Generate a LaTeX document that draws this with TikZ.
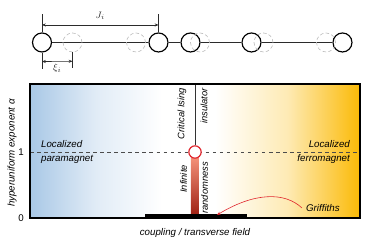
\documentclass[tikz,border=0pt]{standalone}
\usepackage{fontspec}
\setsansfont{Liberation Sans}
\usetikzlibrary{arrows.meta}
\definecolor{ink}{HTML}{2B2B2B}
\definecolor{para}{HTML}{A9C8E6}
\definecolor{ferro}{HTML}{FBBA06}
\definecolor{qred}{HTML}{E0242C}
\definecolor{barhi}{HTML}{F39078}
\definecolor{barmid}{HTML}{F21A12}
\definecolor{barlo}{HTML}{9A1A0E}
\tikzset{
  site/.style={circle,draw=black,fill=white,line width=1pt,minimum size=5.7mm,inner sep=0pt},
  ghost/.style={circle,draw=gray!55,densely dashed,line width=.5pt,minimum size=5.7mm,inner sep=0pt},
  lbl/.style={font=\sffamily\itshape\fontsize{8.3}{12}\selectfont},
  vlbl/.style={font=\sffamily\itshape\fontsize{8}{10}\selectfont,rotate=90},
}

\begin{document}
\begin{tikzpicture}[x=.3mm,y=.3mm,>={Stealth[length=3.2pt,width=2.6pt]},font=\sffamily\fontsize{8.3}{12}\selectfont]
  \useasboundingbox (0,0) rectangle (374,243);
  % chain of sites
  \foreach \n/\x in {1/42,2/158.5,3/190.5,4/251.5,5/342.5}
    \node[site] (s\n) at (\x,200.5) {};
  \draw[ink,line width=.6pt] (s1)--(s2)--(s3)--(s4)--(s5);
  \foreach \n/\x in {1/72.5,2/136,3/200,4/263.5,5/326}
    \node[ghost] (g\n) at (\x,200.5) {};
  \draw[ink,line width=.5pt] (s1.north)--++(0,18) coordinate (j1);
  \draw[ink,line width=.5pt] (s2.north)--++(0,18) coordinate (j2);
  \draw[<->,ink,line width=.5pt] ([yshift=-9]j1)--([yshift=-9]j2)
    node[midway,above=1pt] (jlab) {$J_i$};
  \draw[ink,line width=.5pt] (s1.south)--++(0,-16) coordinate (x1);
  \draw[ink,line width=.5pt] (g1.south)--++(0,-16) coordinate (x2);
  \draw[<->,ink,line width=.5pt] ([yshift=6]x1)--([yshift=6]x2)
    node[midway,below=-1pt] (xlab) {$\xi_i$};
  % phase diagram
  \shade[left color=para,right color=white,middle color=para!35] (30,25) rectangle (162,159);
  \shade[left color=white,right color=ferro,middle color=ferro!30] (215,25) rectangle (360,159);
  \coordinate (dl) at (30,91);
  \coordinate (dr) at (360,91);
  \coordinate (ctop) at (195,159);
  \draw[dashed,gray!60!black,line width=.5pt] (dl)--(dr);
  \shade[top color=barhi,middle color=barmid,bottom color=barlo] (191,25) rectangle (199,85);
  \node[circle,draw=qred,fill=white,line width=1pt,minimum size=3.7mm,inner sep=0pt] (qcp) at (195,91) {};
  \draw[gray!40!black,line width=.7pt] (ctop)--(qcp.north);
  \draw[black,line width=.9pt] (30,25) rectangle (360,159);
  \fill[black] (145,24) rectangle (247,28.5);
  \node[vlbl,anchor=south east] (crit) at (190.5,159) {Critical Ising};
  \node[vlbl,anchor=north east] (ins) at (196.5,159) {insulator};
  \node[vlbl,anchor=south east] (inf) at (191,82) {Infinite};
  \node[vlbl,anchor=north east] (rnd) at (197,85) {randomness};
  \node[lbl,anchor=west,align=left] (para) at (37,91) {Localized\\paramagnet};
  \node[lbl,anchor=east,align=right] (ferro) at (354,91) {Localized\\ferromagnet};
  \node[lbl,anchor=west] (grif) at (302,35) {Griffiths};
  \coordinate (gtip) at (217,28);
  \draw[->,qred,line width=.5pt] (grif.west) .. controls (285,51) and (255,51) .. (gtip);
  \node[anchor=east] (one) at (28,91) {1};
  \node[anchor=east] (zero) at (28,25) {0};
  \node[lbl,rotate=90] (ylab) at (12,90) {hyperuniform exponent α};
  \node[lbl] (xlab2) at (195,10) {coupling / transverse field};
\end{tikzpicture}
\end{document}
